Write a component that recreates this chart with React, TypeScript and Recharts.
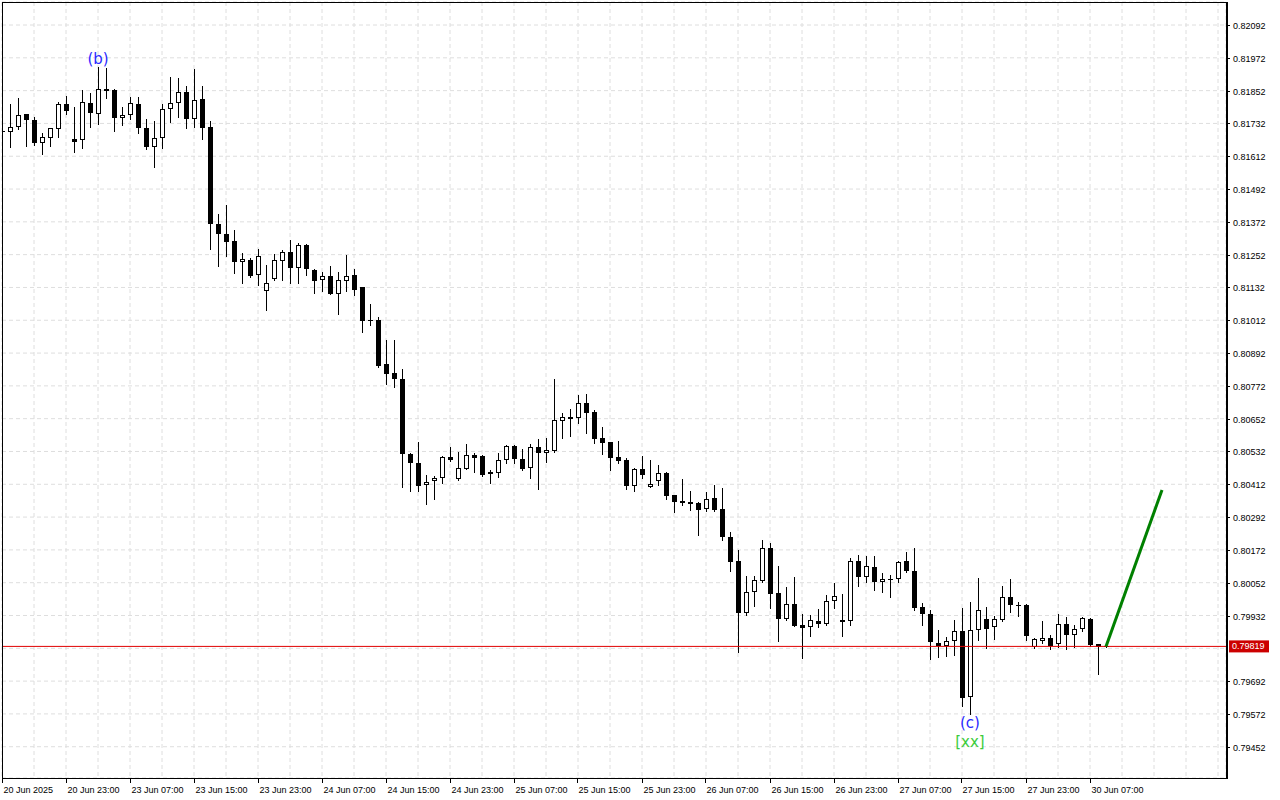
import {
  Bar,
  CartesianGrid,
  ComposedChart,
  Line,
  ReferenceDot,
  ReferenceLine,
  XAxis,
  YAxis,
} from "recharts";

// H1 candles, 20 Jun 15:00 .. 30 Jun 09:00
const opens = [
  0.81699, 0.817, 0.81718, 0.81765, 0.81743, 0.81659, 0.81678, 0.81711, 0.81803, 0.81674,
  0.8167, 0.81806, 0.81765, 0.81858, 0.81854, 0.81751, 0.81762, 0.81803, 0.81714, 0.81645,
  0.81678, 0.81784, 0.81806, 0.81848, 0.81747, 0.8182, 0.81718, 0.81364, 0.81327, 0.81301,
  0.81224, 0.81231, 0.81176, 0.81118, 0.81163, 0.8123, 0.81261, 0.81204, 0.81287, 0.81196,
  0.81158, 0.81173, 0.81109, 0.81157, 0.81176, 0.81133, 0.81012, 0.81012, 0.80851, 0.80818,
  0.80797, 0.80523, 0.80489, 0.80408, 0.80423, 0.80434, 0.80511, 0.8043, 0.80467, 0.80518,
  0.80516, 0.80449, 0.80452, 0.80501, 0.80552, 0.80503, 0.80471, 0.80547, 0.80525, 0.80535,
  0.80645, 0.80657, 0.80656, 0.80708, 0.80675, 0.8058, 0.80567, 0.80511, 0.80501, 0.80407,
  0.80467, 0.80403, 0.80423, 0.80452, 0.80372, 0.80351, 0.80347, 0.80344, 0.8032, 0.80361,
  0.8032, 0.80218, 0.8013, 0.79942, 0.80017, 0.80059, 0.80178, 0.80013, 0.7992, 0.79973,
  0.79896, 0.79889, 0.79912, 0.79902, 0.79984, 0.79914, 0.79913, 0.80132, 0.80072, 0.80108,
  0.80053, 0.80066, 0.80064, 0.80131, 0.80095, 0.79962, 0.79938, 0.7983, 0.79822, 0.79838,
  0.79875, 0.79633, 0.79879, 0.79918, 0.79889, 0.79916, 0.79999, 0.79972, 0.7997, 0.79816,
  0.7984, 0.79849, 0.79827, 0.799, 0.7986, 0.79882, 0.79919, 0.79827, 0.79816,
];
const highs = [
  0.81712, 0.81803, 0.81824, 0.81767, 0.81757, 0.81696, 0.81714, 0.81812, 0.81832, 0.81791,
  0.81854, 0.81844, 0.8194, 0.81934, 0.81857, 0.81793, 0.8183, 0.8183, 0.81747, 0.81741,
  0.81802, 0.81901, 0.81897, 0.81869, 0.8193, 0.81869, 0.81741, 0.81401, 0.81434, 0.81341,
  0.81258, 0.81239, 0.81272, 0.81214, 0.81253, 0.81269, 0.81306, 0.81294, 0.8129, 0.812,
  0.81187, 0.81211, 0.81187, 0.81251, 0.812, 0.81133, 0.8107, 0.81024, 0.8094, 0.8094,
  0.80834, 0.80525, 0.80568, 0.80446, 0.80442, 0.80516, 0.80547, 0.80529, 0.80559, 0.80525,
  0.8052, 0.80464, 0.80528, 0.80556, 0.80556, 0.8054, 0.80559, 0.80577, 0.8058, 0.80796,
  0.80674, 0.80686, 0.80739, 0.80742, 0.80684, 0.80622, 0.80567, 0.8057, 0.80507, 0.80471,
  0.80516, 0.80501, 0.80483, 0.80456, 0.80373, 0.80431, 0.80387, 0.80347, 0.80383, 0.80409,
  0.804, 0.80236, 0.80172, 0.80077, 0.80077, 0.80208, 0.80198, 0.80113, 0.80035, 0.80072,
  0.79936, 0.79934, 0.79956, 0.80007, 0.8005, 0.80011, 0.80141, 0.80153, 0.8015, 0.8015,
  0.80086, 0.8008, 0.80131, 0.80165, 0.80178, 0.79979, 0.79952, 0.79879, 0.79854, 0.79916,
  0.79958, 0.7998, 0.80068, 0.79964, 0.7993, 0.8004, 0.80064, 0.79983, 0.79973, 0.79849,
  0.79912, 0.79861, 0.79938, 0.79928, 0.79896, 0.79925, 0.79922, 0.79827, 0.79821,
];
const lows = [
  0.81693, 0.81647, 0.81711, 0.81651, 0.81653, 0.81619, 0.81651, 0.81684, 0.81767, 0.81629,
  0.81641, 0.81718, 0.81729, 0.81824, 0.81705, 0.81725, 0.81747, 0.81696, 0.81637, 0.81574,
  0.81643, 0.81738, 0.81754, 0.81716, 0.8172, 0.81674, 0.81272, 0.81212, 0.81248, 0.81186,
  0.81149, 0.81171, 0.81141, 0.8105, 0.81159, 0.81159, 0.81147, 0.81149, 0.81178, 0.81113,
  0.8112, 0.81109, 0.81035, 0.8112, 0.81104, 0.8097, 0.80995, 0.80842, 0.8078, 0.80769,
  0.80403, 0.80387, 0.80387, 0.80339, 0.80359, 0.80418, 0.80498, 0.80428, 0.80467, 0.80458,
  0.80442, 0.80418, 0.80438, 0.80491, 0.80491, 0.80464, 0.80434, 0.80394, 0.80495, 0.80529,
  0.80582, 0.80589, 0.80635, 0.80601, 0.80562, 0.80524, 0.80465, 0.80491, 0.80396, 0.80389,
  0.80435, 0.80403, 0.80411, 0.80359, 0.80312, 0.80337, 0.80318, 0.80228, 0.80315, 0.80315,
  0.80208, 0.80096, 0.798, 0.79934, 0.79968, 0.80056, 0.79961, 0.7984, 0.79916, 0.79895,
  0.79775, 0.79857, 0.79891, 0.79898, 0.79958, 0.79858, 0.79898, 0.80041, 0.80056, 0.80025,
  0.80019, 0.79999, 0.80053, 0.80092, 0.79952, 0.79897, 0.79773, 0.79779, 0.79785, 0.79788,
  0.79602, 0.79571, 0.79842, 0.79812, 0.79846, 0.79913, 0.79946, 0.79931, 0.79842, 0.79812,
  0.79833, 0.79808, 0.79816, 0.79808, 0.79816, 0.79876, 0.7982, 0.79718, 0.79815,
];
const closes = [
  0.81704, 0.81718, 0.81762, 0.81743, 0.81659, 0.81681, 0.81714, 0.81803, 0.81776, 0.81663,
  0.81809, 0.81769, 0.81857, 0.81852, 0.81751, 0.81762, 0.81806, 0.81714, 0.81647, 0.81678,
  0.81784, 0.81806, 0.81848, 0.81747, 0.81817, 0.81716, 0.81363, 0.81326, 0.81299, 0.81224,
  0.81235, 0.81174, 0.81248, 0.81147, 0.81231, 0.81261, 0.81204, 0.81287, 0.81198, 0.81157,
  0.81173, 0.81109, 0.81158, 0.81175, 0.81124, 0.8101, 0.81009, 0.80846, 0.80814, 0.80796,
  0.80522, 0.80489, 0.80407, 0.80422, 0.80434, 0.80511, 0.80502, 0.80471, 0.80518, 0.80509,
  0.80446, 0.80457, 0.80501, 0.80552, 0.80503, 0.80467, 0.80547, 0.80525, 0.80537, 0.80647,
  0.80657, 0.80652, 0.80708, 0.80672, 0.80579, 0.80564, 0.80509, 0.80497, 0.80407, 0.80467,
  0.80447, 0.80412, 0.80452, 0.8037, 0.80348, 0.80345, 0.80341, 0.80319, 0.80357, 0.80319,
  0.8022, 0.80129, 0.79942, 0.80017, 0.80062, 0.80178, 0.80012, 0.7992, 0.79973, 0.79895,
  0.79887, 0.79914, 0.79902, 0.79984, 0.80002, 0.79909, 0.80132, 0.80074, 0.80112, 0.80053,
  0.80064, 0.80063, 0.80127, 0.80096, 0.79961, 0.79936, 0.79834, 0.7982, 0.79838, 0.79874,
  0.79629, 0.79879, 0.79951, 0.79884, 0.79918, 0.79999, 0.79969, 0.79969, 0.79858, 0.79845,
  0.79849, 0.7982, 0.799, 0.7986, 0.79882, 0.79922, 0.79824, 0.79816, 0.79819,
];

// one label every 8 bars
const timeLabels = [
  "20 Jun 2025", "20 Jun 23:00", "23 Jun 07:00", "23 Jun 15:00", "23 Jun 23:00", "24 Jun 07:00",
  "24 Jun 15:00", "24 Jun 23:00", "25 Jun 07:00", "25 Jun 15:00", "25 Jun 23:00", "26 Jun 07:00",
  "26 Jun 15:00", "26 Jun 23:00", "27 Jun 07:00", "27 Jun 15:00", "27 Jun 23:00", "30 Jun 07:00",
];

const priceTicks = [
  0.79452, 0.79572, 0.79692, 0.79812, 0.79932, 0.80052, 0.80172, 0.80292, 0.80412, 0.80532,
  0.80652, 0.80772, 0.80892, 0.81012, 0.81132, 0.81252, 0.81372, 0.81492, 0.81612, 0.81732,
  0.81852, 0.81972, 0.82092,
];

const lastPrice = 0.79819;
const projBars = [138, 145];
const projPrices = [0.79819, 0.80391];

const TOTAL_SLOTS = 153;
const gridTicks = Array.from({ length: TOTAL_SLOTS / 4 + 1 }, (_, k) => k * 4).filter((v) => v <= 152);

const rows = Array.from({ length: 146 }, (_, i) => {
  const pi = projBars.indexOf(i);
  const has = i < opens.length;
  return {
    i,
    range: has ? [lows[i], highs[i]] : null,
    open: has ? opens[i] : null,
    high: has ? highs[i] : null,
    low: has ? lows[i] : null,
    close: has ? closes[i] : null,
    proj: pi >= 0 ? projPrices[pi] : null,
  };
});

const FONT = "'Liberation Sans', Arial, sans-serif";

function Candle(props: any) {
  const { x, y, width, height, index } = props;
  const p = props.payload ?? rows[index];
  if (!p || p.open == null || x == null || y == null) return null;
  const { open, high, low, close } = p;
  const top = Math.min(y, y + height);
  const bottom = Math.max(y, y + height);
  const span = high - low;
  const toY = (v: number) => (span === 0 ? top : top + ((high - v) / span) * (bottom - top));
  const cx = Math.floor(x + width / 2) + 0.5;
  const yo = toY(open);
  const yc = toY(close);
  const bTop = Math.round(Math.min(yo, yc));
  const bBot = Math.round(Math.max(yo, yc));
  const bull = close > open;
  let body;
  if (bBot - bTop <= 1) {
    body = <line x1={cx - 2.5} x2={cx + 2.5} y1={bTop + 0.5} y2={bTop + 0.5} stroke="#000" />;
  } else if (bull) {
    body = (
      <rect x={cx - 2} y={bTop + 0.5} width={4} height={bBot - bTop - 1} fill="#fff" stroke="#000" strokeWidth={1} />
    );
  } else {
    body = <rect x={cx - 2.5} y={bTop} width={5} height={bBot - bTop} fill="#000" />;
  }
  return (
    <g shapeRendering="crispEdges">
      <line x1={cx} x2={cx} y1={Math.round(top)} y2={Math.round(bottom) + 1} stroke="#000" strokeWidth={1} />
      {body}
    </g>
  );
}

function TimeTick(props: any) {
  const { x, y, payload } = props;
  const v = payload?.value;
  if (v == null || v % 8 !== 0) return null;
  const label = timeLabels[v / 8];
  if (!label) return null;
  const px = Math.floor(x) + 0.5;
  return (
    <g>
      <line x1={px} x2={px} y1={y} y2={y + 5} stroke="#000" shapeRendering="crispEdges" />
      <text x={px + 1} y={y + 15} fontSize={9} fontFamily={FONT} fill="#000">
        {label}
      </text>
    </g>
  );
}

function PriceTick(props: any) {
  const { x, y, payload } = props;
  const v = payload?.value;
  if (v == null || Math.abs(v - lastPrice) < 0.0004) return null;
  const py = Math.round(y) + 0.5;
  return (
    <g>
      <line x1={x} x2={x + 4} y1={py} y2={py} stroke="#000" shapeRendering="crispEdges" />
      <text x={x + 7} y={py + 3} fontSize={9} fontFamily={FONT} fill="#000">
        {v.toFixed(5)}
      </text>
    </g>
  );
}

function PriceTag(props: any) {
  const vb = props.viewBox;
  if (!vb) return null;
  const x = vb.x + vb.width + 3;
  const y = vb.y;
  return (
    <g>
      <rect x={x} y={y - 6} width={40} height={12} fill="#cc0000" />
      <text x={x + 3} y={y + 3} fontSize={9} fontFamily={FONT} fill="#fff">
        {lastPrice.toFixed(5)}
      </text>
    </g>
  );
}

function WaveLabel(props: any) {
  const { viewBox, text, color, dy } = props;
  if (!viewBox) return null;
  const cx = viewBox.x + viewBox.width / 2;
  const cy = viewBox.y + viewBox.height / 2;
  return (
    <text x={cx} y={cy + dy} textAnchor="middle" fontSize={15} fontFamily="'DejaVu Sans', sans-serif" fill={color}>
      {text}
    </text>
  );
}

export default function App() {
  return (
    <div style={{ position: "fixed", left: 0, top: 0, width: 1280, height: 800, background: "#fff" }}>
      <ComposedChart
        width={1280}
        height={800}
        data={rows}
        margin={{ top: 2, right: 0, bottom: 0, left: 2 }}
        style={{ fontFamily: FONT }}
      >
        <CartesianGrid stroke="#dedede" strokeDasharray="4 3" />
        <XAxis
          dataKey="i"
          type="number"
          domain={[0, TOTAL_SLOTS]}
          ticks={gridTicks}
          interval={0}
          allowDataOverflow
          height={22}
          axisLine={false}
          tickLine={false}
          tickSize={0}
          tickMargin={0}
          tick={<TimeTick />}
        />
        <YAxis
          orientation="right"
          type="number"
          domain={[0.793376, 0.821762]}
          ticks={priceTicks}
          interval={0}
          allowDataOverflow
          width={54}
          axisLine={false}
          tickLine={false}
          tickSize={0}
          tickMargin={0}
          tick={<PriceTick />}
        />
        <ReferenceLine y={lastPrice} stroke="#e00000" strokeWidth={1} label={<PriceTag />} />
        <Bar dataKey="range" barSize={6} shape={Candle} isAnimationActive={false} />
        <Line
          dataKey="proj"
          type="linear"
          stroke="#008000"
          strokeWidth={3}
          dot={false}
          connectNulls
          isAnimationActive={false}
        />
        <ReferenceDot
          x={12}
          y={highs[12]}
          r={1}
          fill="none"
          stroke="none"
          label={<WaveLabel text="(b)" color="#2a2aff" dy={-3} />}
        />
        <ReferenceDot
          x={121}
          y={lows[121]}
          r={1}
          fill="none"
          stroke="none"
          label={<WaveLabel text="(c)" color="#2a2aff" dy={14} />}
        />
        <ReferenceDot
          x={121}
          y={lows[121]}
          r={1}
          fill="none"
          stroke="none"
          label={<WaveLabel text="[xx]" color="#3ccc3c" dy={33} />}
        />
      </ComposedChart>
      <div
        style={{
          position: "absolute",
          left: 2,
          top: 2,
          width: 1226,
          height: 777,
          boxSizing: "border-box",
          borderLeft: "1px solid #000",
          borderTop: "1px solid #000",
          borderBottom: "1px solid #000",
          borderRight: "2px solid #000",
          pointerEvents: "none",
        }}
      />
    </div>
  );
}
